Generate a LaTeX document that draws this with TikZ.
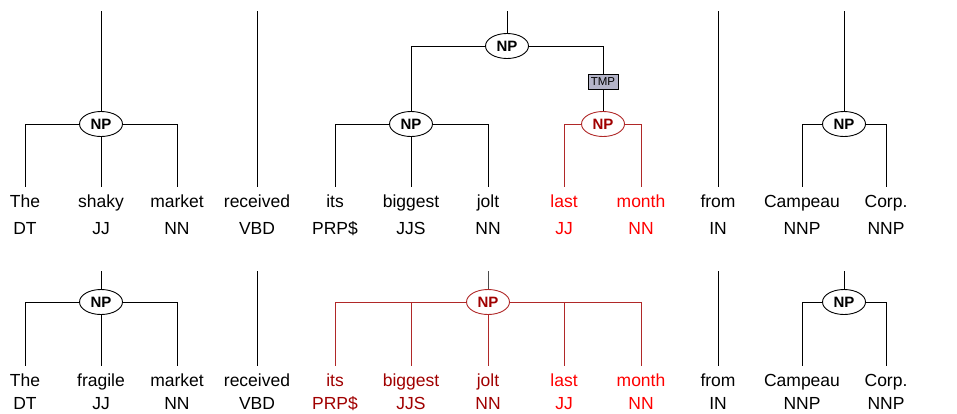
\documentclass[tikz,border=0pt]{standalone}
\usepackage{fontspec}
\setmainfont{Liberation Sans}
\usetikzlibrary{shapes.geometric,positioning}
\definecolor{darkred}{HTML}{A00000}
\definecolor{linered}{HTML}{B02828}
\definecolor{tmpgray}{HTML}{B4B4C8}

\begin{document}
\begin{tikzpicture}[x=1pt, y=-1pt, line width=0.9pt,
        word/.style={anchor=base, font=\fontsize{17.5}{20}\selectfont, inner xsep=0pt, inner ysep=7pt, text height=13pt, text depth=4pt},
        tag/.style={anchor=base, font=\fontsize{17.5}{20}\selectfont, inner sep=0pt},
        np/.style={draw, ellipse, fill=white, minimum width=43pt, minimum height=25pt, inner sep=0pt, font=\bfseries\fontsize{15}{15}\selectfont},
        rednp/.style={np, draw=linered, text=darkred},
        tmpbox/.style={draw, fill=tmpgray, minimum width=30pt, minimum height=15pt, inner sep=0pt, font=\fontsize{11.5}{12}\selectfont}
    ]
        \useasboundingbox (0,0) rectangle (957,413);

        % Top sentence: words
        \node [word] (a1) at (25,207) {The};
        \node [word] (a2) at (101,207) {shaky};
        \node [word] (a3) at (177,207) {market};
        \node [word] (a4) at (257,207) {received};
        \node [word] (a5) at (335,207) {its};
        \node [word] (a6) at (411,207) {biggest};
        \node [word] (a7) at (488,207) {jolt};
        \node [word, text=red] (a8) at (564,207) {last};
        \node [word, text=red] (a9) at (641,207) {month};
        \node [word] (a10) at (718,207) {from};
        \node [word] (a11) at (802,207) {Campeau};
        \node [word] (a12) at (886,207) {Corp.};

        % Top sentence: tags
        \node [tag] (ta1) at (25,234) {DT};
        \node [tag] (ta2) at (101,234) {JJ};
        \node [tag] (ta3) at (177,234) {NN};
        \node [tag] (ta4) at (257,234) {VBD};
        \node [tag] (ta5) at (335,234) {PRP\$};
        \node [tag] (ta6) at (411,234) {JJS};
        \node [tag] (ta7) at (488,234) {NN};
        \node [tag, text=red] (ta8) at (564,234) {JJ};
        \node [tag, text=red] (ta9) at (641,234) {NN};
        \node [tag] (ta10) at (718,234) {IN};
        \node [tag] (ta11) at (802,234) {NNP};
        \node [tag] (ta12) at (886,234) {NNP};

        % Top sentence: phrases
        \node [np] (npa1) at (101,124) {NP};
        \node [np] (npa2) at (507,46) {NP};
        \node [np] (npa3) at (411,124) {NP};
        \node [tmpbox] (tmpa) at (603,82) {TMP};
        \node [rednp] (npa4) at (603,124) {NP};
        \node [np] (npa5) at (844,124) {NP};
        \coordinate (ua1) at (101,11);
        \coordinate (ua2) at (257,11);
        \coordinate (ua3) at (507,11);
        \coordinate (ua4) at (718,11);
        \coordinate (ua5) at (844,11);

        % Top sentence: connections
        \draw (ua1) -- (npa1.north);
        \draw (npa1.west) -| (a1.north);
        \draw (npa1.south) -- (a2.north);
        \draw (npa1.east) -| (a3.north);
        \draw (ua2) -- (a4.north);
        \draw (ua3) -- (npa2.north);
        \draw (npa2.west) -| (npa3.north);
        \draw (npa2.east) -| (tmpa.north);
        \draw (tmpa.south) -- (npa4.north);
        \draw (npa3.west) -| (a5.north);
        \draw (npa3.south) -- (a6.north);
        \draw (npa3.east) -| (a7.north);
        \draw [linered] (npa4.west) -| (a8.north);
        \draw [linered] (npa4.east) -| (a9.north);
        \draw (ua4) -- (a10.north);
        \draw (ua5) -- (npa5.north);
        \draw (npa5.west) -| (a11.north);
        \draw (npa5.east) -| (a12.north);

        % Bottom sentence: words
        \node [word] (b1) at (25,386) {The};
        \node [word] (b2) at (101,386) {fragile};
        \node [word] (b3) at (177,386) {market};
        \node [word] (b4) at (257,386) {received};
        \node [word, text=darkred] (b5) at (335,386) {its};
        \node [word, text=darkred] (b6) at (411,386) {biggest};
        \node [word, text=darkred] (b7) at (488,386) {jolt};
        \node [word, text=red] (b8) at (564,386) {last};
        \node [word, text=red] (b9) at (641,386) {month};
        \node [word] (b10) at (718,386) {from};
        \node [word] (b11) at (802,386) {Campeau};
        \node [word] (b12) at (886,386) {Corp.};

        % Bottom sentence: tags
        \node [tag] (tb1) at (25,409) {DT};
        \node [tag] (tb2) at (101,409) {JJ};
        \node [tag] (tb3) at (177,409) {NN};
        \node [tag] (tb4) at (257,409) {VBD};
        \node [tag, text=darkred] (tb5) at (335,409) {PRP\$};
        \node [tag, text=darkred] (tb6) at (411,409) {JJS};
        \node [tag, text=darkred] (tb7) at (488,409) {NN};
        \node [tag, text=red] (tb8) at (564,409) {JJ};
        \node [tag, text=red] (tb9) at (641,409) {NN};
        \node [tag] (tb10) at (718,409) {IN};
        \node [tag] (tb11) at (802,409) {NNP};
        \node [tag] (tb12) at (886,409) {NNP};

        % Bottom sentence: phrases
        \node [np] (npb1) at (101,302) {NP};
        \node [rednp] (npb2) at (488,302) {NP};
        \node [np] (npb3) at (844,302) {NP};
        \coordinate (ub1) at (101,271);
        \coordinate (ub2) at (257,271);
        \coordinate (ub3) at (488,271);
        \coordinate (ub4) at (718,271);
        \coordinate (ub5) at (844,271);

        % Bottom sentence: connections
        \draw (ub1) -- (npb1.north);
        \draw (npb1.west) -| (b1.north);
        \draw (npb1.south) -- (b2.north);
        \draw (npb1.east) -| (b3.north);
        \draw (ub2) -- (b4.north);
        \draw [black!70] (ub3) -- (npb2.north);
        \draw [linered] (npb2.west) -| (b5.north);
        \draw [linered] (npb2.west) -| (b6.north);
        \draw [linered] (npb2.south) -- (b7.north);
        \draw [linered] (npb2.east) -| (b8.north);
        \draw [linered] (npb2.east) -| (b9.north);
        \draw (ub4) -- (b10.north);
        \draw (ub5) -- (npb3.north);
        \draw (npb3.west) -| (b11.north);
        \draw (npb3.east) -| (b12.north);
    \end{tikzpicture}
\end{document}
